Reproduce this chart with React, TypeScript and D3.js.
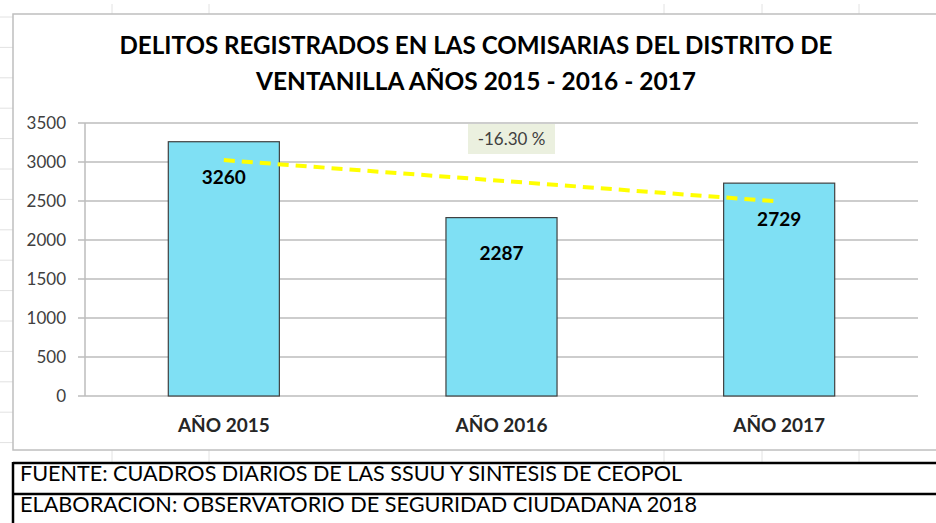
import React from "react";
import * as d3 from "d3";

const categories = ["AÑO 2015", "AÑO 2016", "AÑO 2017"];
const values = [3260, 2287, 2729];
const yTicks = [0, 500, 1000, 1500, 2000, 2500, 3000, 3500];
const titleLines = [
  "DELITOS REGISTRADOS EN LAS COMISARIAS DEL DISTRITO DE",
  "VENTANILLA AÑOS 2015 - 2016 - 2017",
];
const changeLabel = "-16.30 %";
const footerLines = [
  "FUENTE: CUADROS DIARIOS DE LAS SSUU Y SINTESIS DE CEOPOL",
  "ELABORACION: OBSERVATORIO DE SEGURIDAD CIUDADANA 2018",
];
const sheetCols = [112, 209, 664, 762, 859];

const W = 936;
const H = 523;
const FONT = "Lato, 'Open Sans', sans-serif";

export default function App() {
  const x = d3
    .scaleBand<string>()
    .domain(categories)
    .range([85, 918])
    .paddingInner(0.6)
    .paddingOuter(0.3);
  const y = d3.scaleLinear().domain([0, 3500]).range([396, 123]);

  // linear trend line
  const n = values.length;
  const xs = values.map((_, i) => i + 1);
  const mx = d3.mean(xs) as number;
  const my = d3.mean(values) as number;
  const slope =
    d3.sum(xs.map((xi, i) => (xi - mx) * (values[i] - my))) /
    d3.sum(xs.map((xi) => (xi - mx) ** 2));
  const intercept = my - slope * mx;
  const cx = (c: string) => (x(c) as number) + x.bandwidth() / 2;
  const trend = d3.line<[number, number]>()([
    [cx(categories[0]), y(intercept + slope * 1)],
    [cx(categories[n - 1]), y(intercept + slope * n)],
  ]);

  const sheetRows = d3.range(17, 460, 30.4);

  return (
    <svg
      width={W}
      height={H}
      style={{ position: "absolute", left: 0, top: 0, background: "#fff" }}
      fontFamily={FONT}
    >
      {/* spreadsheet grid */}
      {sheetRows.map((r, i) => (
        <line key={"r" + i} x1={0} x2={W} y1={r} y2={r} stroke="#E2E2E2" strokeWidth={1} />
      ))}
      {sheetCols.map((c, i) => (
        <line key={"c" + i} x1={c} x2={c} y1={4} y2={462} stroke="#E2E2E2" strokeWidth={1} />
      ))}

      {/* chart area */}
      <rect x={13} y={14} width={W + 20} height={436} fill="#fff" stroke="#BFBFBF" strokeWidth={1.5} />

      {/* title */}
      {titleLines.map((t, i) => (
        <text
          key={"t" + i}
          x={476}
          y={54 + i * 36}
          textAnchor="middle"
          fontWeight="bold"
          fontSize={25}
          fill="#000"
          textLength={i === 0 ? 713 : 440}
          lengthAdjust="spacingAndGlyphs"
        >
          {t}
        </text>
      ))}

      {/* gridlines and y axis */}
      {yTicks.map((t) => (
        <g key={"g" + t}>
          <line x1={78} x2={918} y1={y(t)} y2={y(t)} stroke="#BDBDBD" strokeWidth={1.5} />
          <text
            x={66}
            y={y(t)}
            dy="0.35em"
            textAnchor="end"
            fontSize={17}
            fill="#404040"
          >
            {t}
          </text>
        </g>
      ))}
      <line x1={85} x2={85} y1={123} y2={396} stroke="#BDBDBD" strokeWidth={1.5} />

      {/* bars */}
      {categories.map((c, i) => (
        <rect
          key={"b" + i}
          x={x(c)}
          y={y(values[i])}
          width={x.bandwidth()}
          height={y(0) - y(values[i])}
          fill="#7FE0F4"
          stroke="#404040"
          strokeWidth={1.2}
        />
      ))}

      {/* trend line */}
      <path d={trend as string} fill="none" stroke="#FFFF00" strokeWidth={4} strokeDasharray="11 7" />

      {/* data labels */}
      {categories.map((c, i) => (
        <text
          key={"l" + i}
          x={cx(c)}
          y={y(values[i]) + 36}
          dy="0.35em"
          textAnchor="middle"
          fontWeight="bold"
          fontSize={19}
          fill="#000"
        >
          {values[i]}
        </text>
      ))}

      {/* change label */}
      <rect x={468} y={124} width={87} height={30} fill="#EBF0DF" />
      <text x={511.5} y={139} dy="0.35em" textAnchor="middle" fontSize={17} fill="#404040">
        {changeLabel}
      </text>

      {/* category labels */}
      {categories.map((c, i) => (
        <text
          key={"x" + i}
          x={cx(c)}
          y={432}
          textAnchor="middle"
          fontWeight="bold"
          fontSize={19}
          fill="#262626"
        >
          {c}
        </text>
      ))}

      {/* footer table */}
      <line x1={13} x2={W} y1={463} y2={463} stroke="#000" strokeWidth={2.5} />
      <line x1={13} x2={W} y1={494} y2={494} stroke="#000" strokeWidth={2.5} />
      <line x1={13} x2={13} y1={462} y2={H} stroke="#000" strokeWidth={2.5} />
      {footerLines.map((t, i) => (
        <text
          key={"f" + i}
          x={20}
          y={481 + i * 31}
          fontSize={21}
          fill="#000"
          textLength={i === 0 ? 662 : 677}
          lengthAdjust="spacingAndGlyphs"
        >
          {t}
        </text>
      ))}
    </svg>
  );
}
